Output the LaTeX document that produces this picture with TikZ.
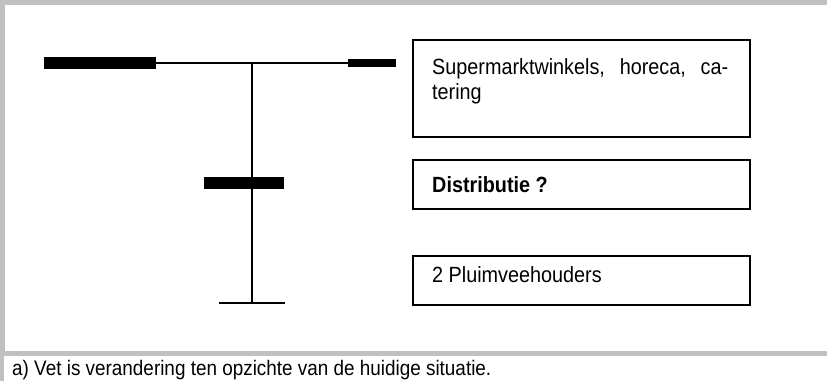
\documentclass[tikz,border=0pt]{standalone}
\usepackage{fontspec}
\setmainfont[FakeStretch=0.9]{Liberation Sans}
\definecolor{kadergrijs}{RGB}{192,192,192}

\tikzset{
  schakelbox/.style = {draw, line width=2pt, minimum width=337pt, anchor=north west, inner sep=0pt},
  boxtekst/.style = {anchor=base west, inner sep=0pt, font=\fontsize{22}{25}\selectfont},
  dunlijn/.style = {line width=2pt},
  dikbalk/.style = {line width=12pt},
}

\begin{document}
\begin{tikzpicture}[x=1pt, y=-1pt]
    \useasboundingbox (0,0) rectangle (827,381);

    \fill[kadergrijs] (0,0) rectangle (827,4.5);
    \fill[kadergrijs] (0,0) rectangle (5,351);
    \fill[kadergrijs] (0,351) rectangle (827,356);
    \fill[kadergrijs] (0,356) rectangle (3.5,381);

    \node (super) [schakelbox, minimum height=97pt] at (412,39) {};
    \node (distr) [schakelbox, minimum height=49pt] at (412,159) {};
    \node (pluim) [schakelbox, minimum height=49pt] at (412,255) {};

    \node (super1) [boxtekst] at (432,74) {\makebox[296pt][s]{Supermarktwinkels, horeca, ca-}};
    \node (super2) [boxtekst] at ([yshift=-25pt]super1.base west) {tering};
    \node (distrtekst) [boxtekst, font=\fontsize{22}{25}\selectfont\bfseries] at (432,192) {Distributie ?};
    \node (pluimtekst) [boxtekst] at (432,282) {2 Pluimveehouders};

    \node (voetnoot) [anchor=base west, inner sep=0pt, font=\fontsize{21}{23}\selectfont] at (12,375) {a) Vet is verandering ten opzichte van de huidige situatie.};

    \coordinate (links) at (44,63.3);
    \coordinate (linksbalk) at (156,63.3);
    \coordinate (knoop) at (252,63.3);
    \coordinate (rechtsbalk) at (348,63.3);
    \coordinate (rechts) at (396,63.3);
    \coordinate (middenl) at (204,183.3);
    \coordinate (middenr) at (284,183.3);
    \coordinate (voet) at (252,303.3);
    \coordinate (voetl) at (219,303.3);
    \coordinate (voetr) at (285,303.3);

    \draw[dunlijn] (links) -- (rechts);
    \draw[dikbalk] (links) -- (linksbalk);
    \draw[line width=8pt] (rechtsbalk) -- (rechts);
    \draw[dunlijn] (knoop) -- (voet);
    \draw[dikbalk] (middenl) -- (middenr);
    \draw[dunlijn] (voetl) -- (voetr);

\end{tikzpicture}
\end{document}
